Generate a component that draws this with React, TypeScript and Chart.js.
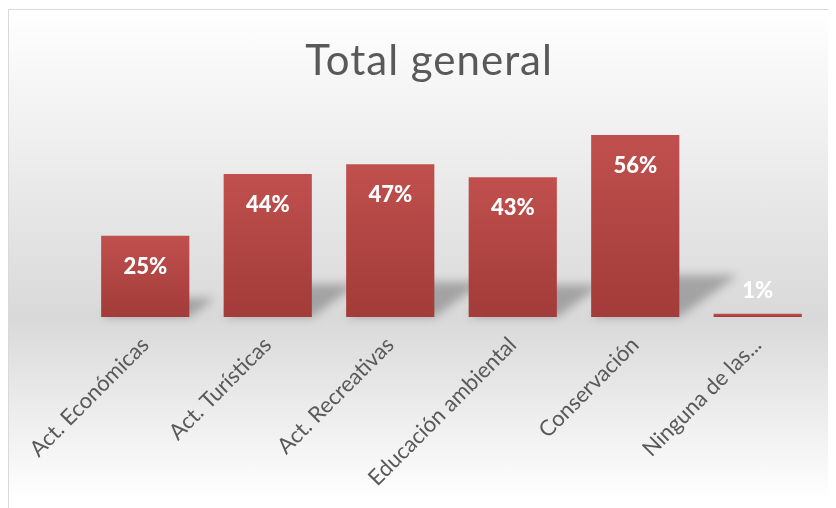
import React, { useEffect, useRef } from "react";
import { Chart, registerables } from "chart.js";

Chart.register(...registerables);

const categories = [
  "Act. Económicas",
  "Act. Turísticas",
  "Act. Recreativas",
  "Educación ambiental",
  "Conservación",
  "Ninguna de las...",
];
const values = [25, 44, 47, 43, 56, 1];
const valueLabels = ["25%", "44%", "47%", "43%", "56%", "1%"];
const chartTitle = "Total general";

const FONT = "Lato, 'Open Sans', sans-serif";

const titlePlugin = {
  id: "customTitle",
  afterDraw(chart: any) {
    const ctx = chart.ctx;
    ctx.save();
    ctx.font = `normal 42px ${FONT}`;
    try {
      (ctx as any).letterSpacing = "1px";
    } catch (e) {}
    ctx.fillStyle = "#595959";
    ctx.textAlign = "center";
    ctx.textBaseline = "middle";
    ctx.fillText(chartTitle, 420, 51);
    ctx.restore();
  },
};

const shadowPlugin = {
  id: "perspShadow",
  beforeDatasetsDraw(chart: any) {
    const ctx = chart.ctx;
    const meta = chart.getDatasetMeta(0);
    ctx.save();
    ctx.filter = "blur(5px)";
    ctx.fillStyle = "rgba(0,0,0,0.26)";
    meta.data.forEach((el: any) => {
      const { x, y, base, width } = el.getProps(["x", "y", "base", "width"], true);
      const h = base - y;
      if (h < 10) return;
      const l = x - width / 2;
      const r = x + width / 2;
      const dx = h * 0.32;
      const dy = h * 0.23;
      ctx.beginPath();
      ctx.moveTo(l, base);
      ctx.lineTo(r, base);
      ctx.lineTo(r + dx, base - dy);
      ctx.lineTo(l + dx, base - dy);
      ctx.closePath();
      ctx.fill();
    });
    ctx.restore();
  },
};

const labelPlugin = {
  id: "valueLabels",
  afterDatasetsDraw(chart: any) {
    const ctx = chart.ctx;
    const meta = chart.getDatasetMeta(0);
    ctx.save();
    ctx.font = `900 22px ${FONT}`;
    ctx.fillStyle = "#ffffff";
    ctx.textAlign = "center";
    ctx.textBaseline = "middle";
    meta.data.forEach((el: any, i: number) => {
      const { x, y, base } = el.getProps(["x", "y", "base"], true);
      const h = base - y;
      const ty = h > 45 ? y + 31 : y - 23;
      ctx.fillText(valueLabels[i], x, ty);
    });
    ctx.restore();
  },
};

export default function App() {
  const ref = useRef<HTMLCanvasElement | null>(null);
  useEffect(() => {
    document.documentElement.style.overflow = "hidden";
    const canvas = ref.current!;
    const chart = new Chart(canvas, {
      type: "bar",
      data: {
        labels: categories,
        datasets: [
          {
            data: values,
            backgroundColor: (c: any) => {
              const ch = c.chart;
              const ys = ch.scales && ch.scales.y;
              if (!ys || c.type !== "data") return "#b3474a";
              const top = ys.getPixelForValue(c.raw);
              const bot = ys.getPixelForValue(0);
              if (!isFinite(top) || !isFinite(bot) || bot - top < 1) return "#b84a47";
              const g = ch.ctx.createLinearGradient(0, top, 0, bot);
              g.addColorStop(0, "#c0504d");
              g.addColorStop(1, "#a23b39");
              return g;
            },
            borderWidth: 0,
            categoryPercentage: 0.72,
            barPercentage: 1,
          },
        ],
      },
      options: {
        responsive: false,
        animation: false,
        layout: { padding: { left: 75, right: 17, top: 112, bottom: 0 } },
        plugins: {
          legend: { display: false },
          tooltip: { enabled: false },
          title: { display: false },
        },
        scales: {
          x: {
            grid: { display: false, drawTicks: false },
            border: { display: false },
            ticks: {
              autoSkip: false,
              maxRotation: 45,
              minRotation: 45,
              color: "#595959",
              font: { family: FONT, size: 22 },
              padding: 15,
            },
            afterFit: (s: any) => {
              s.height = 191;
            },
          },
          y: {
            display: false,
            min: 0,
            max: 60,
          },
        },
      },
      plugins: [shadowPlugin, labelPlugin, titlePlugin],
    });
    return () => chart.destroy();
  }, []);

  return (
    <div style={{ width: 828, height: 500, overflow: "hidden" }}>
      <div
        style={{
          marginTop: 1,
          width: 860,
          height: 520,
          borderLeft: "1px solid #d9d9d9",
          borderTop: "1px solid #d9d9d9",
          background:
            "linear-gradient(to bottom, #ffffff 0px, #d9d9d9 308px, #ffffff 490px, #ffffff 520px)",
          position: "relative",
        }}
      >
        <canvas
          ref={ref}
          width={827}
          height={498}
          style={{ position: "absolute", left: 0, top: 0, width: 827, height: 498 }}
        />
      </div>
    </div>
  );
}
